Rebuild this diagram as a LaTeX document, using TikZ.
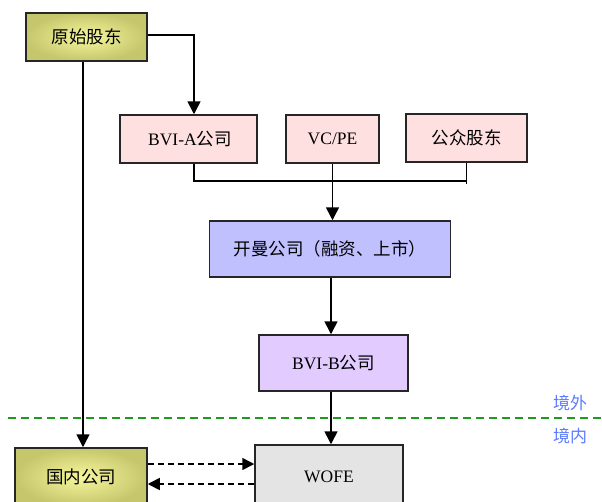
\documentclass[tikz,border=0pt]{standalone}
\usepackage{fontspec}
\setmainfont{Liberation Serif}
\newfontfamily\cjk{Noto Sans CJK SC}
\usetikzlibrary{arrows.meta}
\definecolor{olive1}{HTML}{C6C66C}
\definecolor{olive2}{HTML}{F6F69E}
\definecolor{pinkf}{HTML}{FFE0E0}
\definecolor{bluef}{HTML}{C0C0FF}
\definecolor{lilacf}{HTML}{E2CCFF}
\definecolor{grayf}{HTML}{E4E4E4}
\definecolor{lgreen}{HTML}{1E9A1E}
\definecolor{lblue}{HTML}{5A7BFF}
\tikzset{
  box/.style={draw=black!85, line width=1.5pt, inner sep=0pt, font=\fontsize{17.5}{20}\selectfont},
  olivebox/.style={box, shading=radial, inner color=olive2, outer color=olive1},
  arr/.style={line width=1.6pt, -{Triangle[width=13pt,length=13pt]}},
  darr/.style={line width=1.6pt, dash pattern=on 6pt off 4pt, -{Triangle[width=12pt,length=12pt]}},
  plain/.style={line width=1.6pt},
  zone/.style={text=lblue, font=\fontsize{17}{19}\selectfont\cjk},
}
\begin{document}
\begin{tikzpicture}[x=1pt,y=-1pt]
\useasboundingbox (0,0) rectangle (602,501);
\clip (0,0) rectangle (602,501);
% nodes
\node[olivebox, minimum width=121pt, minimum height=48pt] (yuanshi) at (86.5,37) {\cjk 原始股东};
\node[box, fill=pinkf, minimum width=137pt, minimum height=48pt] (bvia) at (188.5,139) {\,BVI-A{\cjk 公司}};
\node[box, fill=pinkf, minimum width=93pt, minimum height=48pt] (vcpe) at (332.5,139) {VC/PE};
\node[box, fill=pinkf, minimum width=121pt, minimum height=48pt] (gongzhong) at (466.5,138) {\cjk 公众股东};
\node[box, fill=bluef, minimum width=241pt, minimum height=56pt] (kaiman) at (330,249) {\cjk 开曼公司（融资、上市）};
\node[box, fill=lilacf, minimum width=149pt, minimum height=56pt] (bvib) at (333.5,363) {BVI-B{\cjk 公司}};
\node[box, fill=grayf, minimum width=148pt, minimum height=64pt] (wofe) at (329,477) {WOFE};
\node[olivebox, minimum width=132pt, minimum height=58pt] (guonei) at (81,477) {\cjk 国内公司};
% helper coordinates
\coordinate (ca) at (194,181);
\coordinate (cy) at (83,0);
\coordinate (cv) at (331,0);
\coordinate (d1) at (0,464);
\coordinate (d2) at (0,484);
% connectors
\draw[arr] (yuanshi.east |- 0,35) -| (bvia.north -| ca);
\draw[plain] (bvia.south -| ca) -- (ca) -- (ca -| gongzhong.south);
\draw[plain] (gongzhong.south) -- ++(0,21);
\draw[arr] (vcpe.south) -- (vcpe.south |- kaiman.north);
\draw[arr] (kaiman.south -| cv) -- (bvib.north -| cv);
\draw[arr] (bvib.south -| cv) -- (wofe.north -| cv);
\draw[arr] (yuanshi.south -| cy) -- (guonei.north -| cy);
\draw[darr] (guonei.east |- d1) -- (wofe.west |- d1);
\draw[darr] (wofe.west |- d2) -- (guonei.east |- d2);
% border line
\coordinate (g1) at (8,418);
\coordinate (g2) at (602,418);
\draw[lgreen, line width=1.6pt, dash pattern=on 8pt off 5pt] (g1) -- (g2);
\node[zone] (jingwai) at (570,403) {境外};
\node[zone] (jingnei) at (570,436) {境内};
\end{tikzpicture}
\end{document}
